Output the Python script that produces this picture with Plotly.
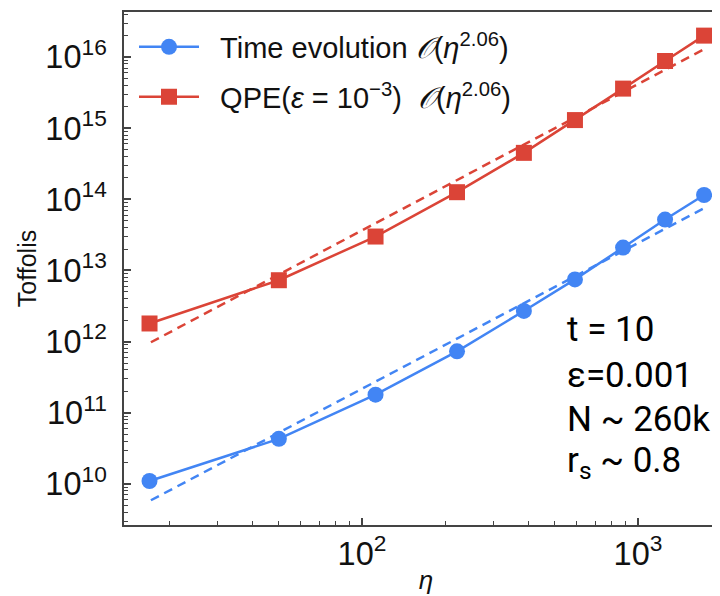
import plotly.graph_objects as go

# ---- data ----
eta = [17, 50, 112, 221, 386, 591, 883, 1253, 1735]
time_evolution = [1.1e10, 4.3e10, 1.8e11, 7.3e11, 2.7e12, 7.5e12, 2.1e13, 5.2e13, 1.15e14]
qpe = [1.8e12, 7.3e12, 3.0e13, 1.26e14, 4.5e14, 1.3e15, 3.6e15, 8.8e15, 2.0e16]
fit_eta = [17.2, 1735]
time_fit = [5.9e9, 7.5e13]
qpe_fit = [9.8e11, 1.29e16]

label_time = "&nbsp;&nbsp;Time evolution <i>𝒪</i>(<i>η</i><sup>2.06</sup>)"
label_qpe = "&nbsp;&nbsp;QPE(<i>ε</i> = 10<sup>−3</sup>)  <i>𝒪</i>(<i>η</i><sup>2.06</sup>)"
info_lines = ["t = 10", "ε=0.001", "N ~ 260k", "r<sub>s</sub> ~ 0.8"]

BLUE = "#4285F4"
RED = "#DB4437"
AX = "#444444"

fig = go.Figure()
fig.add_trace(go.Scatter(x=fit_eta, y=time_fit, mode="lines", showlegend=False,
                         line=dict(color=BLUE, width=2.5, dash="9px,6px")))
fig.add_trace(go.Scatter(x=fit_eta, y=qpe_fit, mode="lines", showlegend=False,
                         line=dict(color=RED, width=2.5, dash="9px,6px")))
fig.add_trace(go.Scatter(x=eta, y=time_evolution, mode="lines+markers", name=label_time,
                         line=dict(color=BLUE, width=2.5),
                         marker=dict(symbol="circle", size=16, color=BLUE),
                         legend="legend"))
fig.add_trace(go.Scatter(x=eta, y=qpe, mode="lines+markers", name=label_qpe,
                         line=dict(color=RED, width=2.5),
                         marker=dict(symbol="square", size=16, color=RED),
                         legend="legend2"))

H = 513.0
legend_common = dict(xanchor="left", yanchor="middle", bgcolor="rgba(0,0,0,0)",
                     font=dict(family="Liberation Sans, Arial", size=29, color="#111111"),
                     itemwidth=60, borderwidth=0)

for i, line in enumerate(info_lines):
    ypix = [321, 367, 411, 454][i]
    fig.add_annotation(xref="paper", yref="paper", x=(557 - 116) / 604.0,
                       y=1 - (ypix - 4) / H, xanchor="left", yanchor="middle",
                       text=line, showarrow=False,
                       font=dict(family="Roboto", size=35, color="#000000"))

fig.update_layout(
    width=720, height=596,
    margin=dict(l=116, r=0, t=4, b=79),
    paper_bgcolor="white", plot_bgcolor="white",
    font=dict(family="Liberation Sans, Arial", color="#111111"),
    legend=dict(x=10 / 604.0, y=1 - 35 / H, **legend_common),
    legend2=dict(x=10 / 604.0, y=1 - 85 / H, **legend_common),
    xaxis=dict(type="log", range=[1.138, 3.326], showline=True, linecolor=AX, linewidth=2,
               mirror=True, showgrid=False, zeroline=False,
               ticks="inside", ticklen=7, tickwidth=1.5, tickcolor=AX, dtick=1,
               exponentformat="power", showexponent="all",
               tickfont=dict(size=26, family="Liberation Sans, Arial"),
               minor=dict(ticks="inside", ticklen=4, tickwidth=1, tickcolor=AX, dtick="D1", showgrid=False),
               title=dict(text="<i>η</i>", font=dict(size=26), standoff=0)),
    yaxis=dict(type="log", range=[9.423, 16.633], showline=True, linecolor=AX, linewidth=2,
               showgrid=False, zeroline=False,
               ticks="inside", ticklen=7, tickwidth=1.5, tickcolor=AX, dtick=1,
               exponentformat="power", showexponent="all",
               tickfont=dict(size=26, family="Liberation Sans, Arial"),
               minor=dict(ticks="inside", ticklen=4, tickwidth=1, tickcolor=AX, dtick="D1", showgrid=False),
               ticklabelstandoff=10,
               title=dict(text="Toffolis", font=dict(size=25), standoff=2)),
)

fig.write_html("out.html")
